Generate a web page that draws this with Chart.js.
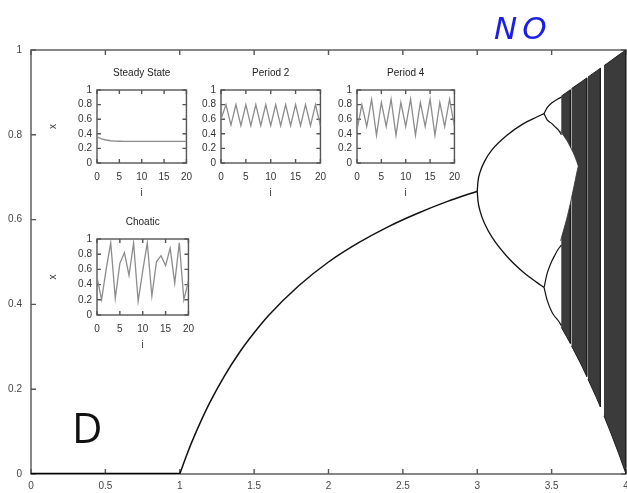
<!DOCTYPE html>
<html>
<head>
<meta charset="utf-8">
<script src="https://cdn.jsdelivr.net/npm/chart.js@4.4.1/dist/chart.umd.min.js"></script>
<style>
  body { margin: 0; background: #fff; }
  #wrap { position: relative; width: 627px; height: 493px; overflow: hidden; }
  canvas { position: absolute; }
  .mark { position: absolute; line-height: 1; white-space: nowrap; }
  #letterD { left: 72px; top: 398px; font: 42px "Open Sans"; color: #111; }
  #stamp { left: 494px; top: 10px; font: italic 31px "DejaVu Sans"; color: #1a1ee8; letter-spacing: 5px; }
</style>
</head>
<body>
<div id="wrap">
  <canvas id="mainChart" width="627" height="493" style="left:0;top:0"></canvas>
  <canvas id="insSteady"></canvas>
  <canvas id="insPeriod2"></canvas>
  <canvas id="insPeriod4"></canvas>
  <canvas id="insChaotic"></canvas>
  <div class="mark" id="letterD">D</div>
  <div class="mark" id="stamp">NO</div>
</div>
<script>
/**
 * DATA - main bifurcation diagram
 */
const zeroR = [0, 1];
const zeroX = [0, 0];

const fixedR = [1, 1.05, 1.1, 1.2, 1.3, 1.4, 1.5, 1.6, 1.8, 2.0, 2.2, 2.4, 2.6, 2.8, 3.0];
const fixedX = [0, 0.048, 0.091, 0.167, 0.231, 0.286, 0.333, 0.375, 0.444, 0.5, 0.545, 0.583, 0.615, 0.643, 0.667];

const p2R  = [3.0, 3.005, 3.02, 3.05, 3.1, 3.2, 3.3, 3.4, 3.449];
const p2Hi = [0.667, 0.690, 0.713, 0.738, 0.765, 0.799, 0.824, 0.842, 0.85];
const p2Lo = [0.667, 0.644, 0.619, 0.590, 0.558, 0.513, 0.479, 0.452, 0.44];

const p4R = [3.449, 3.47, 3.5, 3.52, 3.544, 3.566];
const p4A = [0.85, 0.864, 0.875, 0.880, 0.885, 0.889];
const p4B = [0.85, 0.835, 0.827, 0.820, 0.812, 0.800];
const p4C = [0.44, 0.473, 0.501, 0.515, 0.530, 0.540];
const p4D = [0.44, 0.410, 0.383, 0.372, 0.362, 0.350];

// chaotic band envelope, with the periodic windows left out
const chaosR   = [3.565, 3.6, 3.626, 3.634, 3.7, 3.736, 3.744, 3.8, 3.828, 3.852, 3.9, 3.95, 4.0];
const chaosTop = [0.891, 0.9, 0.906, 0.909, 0.925, 0.934, 0.936, 0.95, 0.957, 0.963, 0.975, 0.988, 1.0];
const chaosBot = [0.346, 0.324, 0.308, 0.302, 0.257, 0.230, 0.224, 0.181, 0.158, 0.137, 0.095, 0.049, 0.0];
const chaosBands = [[0, 2], [3, 5], [6, 8], [9, 12]];

// empty gap between the two chaotic bands before they merge
const gapR   = [3.56, 3.6, 3.625, 3.65, 3.67, 3.679];
const gapTop = [0.808, 0.788, 0.772, 0.754, 0.736, 0.726];
const gapBot = [0.550, 0.600, 0.637, 0.678, 0.712, 0.726];

const mainTicksX = [0, 0.5, 1, 1.5, 2, 2.5, 3, 3.5, 4];
const mainTicksY = [0, 0.2, 0.4, 0.6, 0.8, 1];

/**
 * DATA - inset time series
 */
const iterIdx   = [0, 1, 2, 3, 4, 5, 6, 7, 8, 9, 10, 11, 12, 13, 14, 15, 16, 17, 18, 19, 20];
const steadyX   = [0.36, 0.33, 0.315, 0.305, 0.30, 0.298, 0.297, 0.297, 0.297, 0.297, 0.297, 0.297, 0.297, 0.297, 0.297, 0.297, 0.297, 0.297, 0.297, 0.297, 0.297];
const period2X  = [0.6, 0.8, 0.52, 0.8, 0.51, 0.8, 0.51, 0.8, 0.51, 0.8, 0.51, 0.8, 0.51, 0.8, 0.51, 0.8, 0.51, 0.8, 0.51, 0.8, 0.51];
const period4X  = [0.45, 0.8, 0.5, 0.87, 0.38, 0.83, 0.5, 0.875, 0.38, 0.83, 0.5, 0.875, 0.38, 0.83, 0.5, 0.875, 0.38, 0.83, 0.5, 0.875, 0.5];
const chaoticX  = [0.5, 0.2, 0.6, 0.95, 0.22, 0.68, 0.82, 0.52, 0.95, 0.18, 0.58, 0.95, 0.25, 0.7, 0.78, 0.65, 0.88, 0.42, 0.95, 0.2, 0.45];
const insetTicksX = [0, 5, 10, 15, 20];
const insetTicksY = [0, 0.2, 0.4, 0.6, 0.8, 1];

/**
 * HELPERS
 */
const pts = (xs, ys) => xs.map((v, i) => ({ x: v, y: ys[i] }));
const FONT = { family: 'Liberation Sans', size: 10 };

function polygon(rs, tops, bots, i0, i1) {
  const poly = [];
  for (let i = i0; i <= i1; i++) poly.push({ x: rs[i], y: tops[i] });
  for (let i = i1; i >= i0; i--) poly.push({ x: rs[i], y: bots[i] });
  return poly;
}

// frame box + inward ticks on all four sides, optional title over the plot
const framePlugin = {
  id: 'frame',
  beforeDatasetsDraw(chart, args, opts) {
    const { ctx, chartArea: a, scales } = chart;
    ctx.save();
    ctx.strokeStyle = opts.color;
    ctx.lineWidth = opts.width;
    ctx.strokeRect(a.left, a.top, a.right - a.left, a.bottom - a.top);
    const t = opts.tick;
    ctx.beginPath();
    scales.x.ticks.forEach(tk => {
      const px = scales.x.getPixelForValue(tk.value);
      ctx.moveTo(px, a.bottom); ctx.lineTo(px, a.bottom - t);
      ctx.moveTo(px, a.top); ctx.lineTo(px, a.top + t);
    });
    scales.y.ticks.forEach(tk => {
      const py = scales.y.getPixelForValue(tk.value);
      ctx.moveTo(a.left, py); ctx.lineTo(a.left + t, py);
      ctx.moveTo(a.right, py); ctx.lineTo(a.right - t, py);
    });
    ctx.stroke();
    if (opts.title) {
      ctx.fillStyle = '#222';
      ctx.font = '10px "Liberation Sans"';
      ctx.textAlign = 'center';
      ctx.textBaseline = 'middle';
      ctx.fillText(opts.title, (a.left + a.right) / 2, a.top - 17);
    }
    ctx.restore();
  }
};

// lower order draws on top
function lineSet(data, color, width) {
  return { data, borderColor: color, borderWidth: width, pointRadius: 0, fill: false,
           tension: 0.4, cubicInterpolationMode: 'monotone', order: 1 };
}

/**
 * MAIN CHART
 */
const datasets = [];
chaosBands.forEach(([i0, i1]) => {
  datasets.push({ data: polygon(chaosR, chaosTop, chaosBot, i0, i1), fill: 'shape',
                  backgroundColor: '#3b3b3b', borderColor: '#1e1e1e', borderWidth: 1,
                  pointRadius: 0, tension: 0, order: 3 });
});
datasets.push({ data: polygon(gapR, gapTop, gapBot, 0, gapR.length - 1), fill: 'shape',
                backgroundColor: '#fff', borderColor: '#333', borderWidth: 0.8,
                pointRadius: 0, tension: 0.3, order: 2 });
datasets.push(lineSet(pts(zeroR, zeroX), '#000', 2.5));
datasets.push(lineSet(pts(fixedR, fixedX), '#111', 1.5));
datasets.push(lineSet(pts(p2R, p2Hi), '#111', 1.3));
datasets.push(lineSet(pts(p2R, p2Lo), '#111', 1.3));
[p4A, p4B, p4C, p4D].forEach(b => datasets.push(lineSet(pts(p4R, b), '#111', 1.2)));

new Chart(document.getElementById('mainChart'), {
  type: 'line',
  data: { datasets },
  options: {
    responsive: false, animation: false, devicePixelRatio: 1,
    layout: { padding: { top: 50, right: 1, left: 0, bottom: 0 } },
    plugins: { legend: { display: false }, tooltip: { enabled: false },
               frame: { color: '#555', width: 1.4, tick: 5 } },
    scales: {
      x: { type: 'linear', min: 0, max: 4,
           grid: { display: false, drawTicks: false }, border: { display: false },
           afterBuildTicks: s => { s.ticks = mainTicksX.map(v => ({ value: v })); },
           afterFit: s => { s.height = 19; s.paddingLeft = 0; s.paddingRight = 0; },
           ticks: { padding: 6, maxRotation: 0, autoSkip: false, color: '#444', font: FONT,
                    callback: v => String(v) } },
      y: { type: 'linear', min: 0, max: 1,
           grid: { display: false, drawTicks: false }, border: { display: false },
           afterBuildTicks: s => { s.ticks = mainTicksY.map(v => ({ value: v })); },
           afterFit: s => { s.width = 31; },
           ticks: { padding: 9, autoSkip: false, color: '#444', font: FONT,
                    callback: v => String(v) } }
    }
  },
  plugins: [framePlugin]
});

/**
 * INSETS
 */
function makeInset(id, title, series, box, showX) {
  const cv = document.getElementById(id);
  cv.width = box.r - box.l + 60;
  cv.height = box.b - box.t + 68;
  cv.style.left = (box.l - 50) + 'px';
  cv.style.top = (box.t - 30) + 'px';
  new Chart(cv, {
    type: 'line',
    data: { datasets: [{ data: pts(iterIdx, series), borderColor: '#8c8c8c', borderWidth: 1.3,
                         pointRadius: 0, tension: 0, fill: false }] },
    options: {
      responsive: false, animation: false, devicePixelRatio: 1,
      layout: { padding: { top: 30, right: 10, left: 0, bottom: 0 } },
      plugins: { legend: { display: false }, tooltip: { enabled: false },
                 frame: { color: '#555', width: 1.4, tick: 4, title } },
      scales: {
        x: { type: 'linear', min: 0, max: 20,
             grid: { display: false, drawTicks: false }, border: { display: false },
             afterBuildTicks: s => { s.ticks = insetTicksX.map(v => ({ value: v })); },
             afterFit: s => { s.height = 38; },
             title: { display: true, text: 'i', color: '#333', font: FONT, padding: { top: 0, bottom: 2 } },
             ticks: { padding: 8, maxRotation: 0, autoSkip: false, color: '#333', font: FONT } },
        y: { type: 'linear', min: 0, max: 1,
             grid: { display: false, drawTicks: false }, border: { display: false },
             afterBuildTicks: s => { s.ticks = insetTicksY.map(v => ({ value: v })); },
             afterFit: s => { s.width = 50; },
             title: { display: showX, text: 'x', color: '#333', font: FONT, padding: { top: 0, bottom: 0 } },
             ticks: { padding: 5, autoSkip: false, color: '#333', font: FONT, callback: v => String(v) } }
      }
    },
    plugins: [framePlugin]
  });
}

makeInset('insSteady', 'Steady State', steadyX, { l: 97, t: 90, r: 190, b: 163 }, true);
makeInset('insPeriod2', 'Period 2', period2X, { l: 221, t: 90, r: 324, b: 163 }, false);
makeInset('insPeriod4', 'Period 4', period4X, { l: 357, t: 90, r: 458, b: 163 }, false);
makeInset('insChaotic', 'Choatic', chaoticX, { l: 97, t: 239, r: 192, b: 315 }, true);
</script>
</body>
</html>
